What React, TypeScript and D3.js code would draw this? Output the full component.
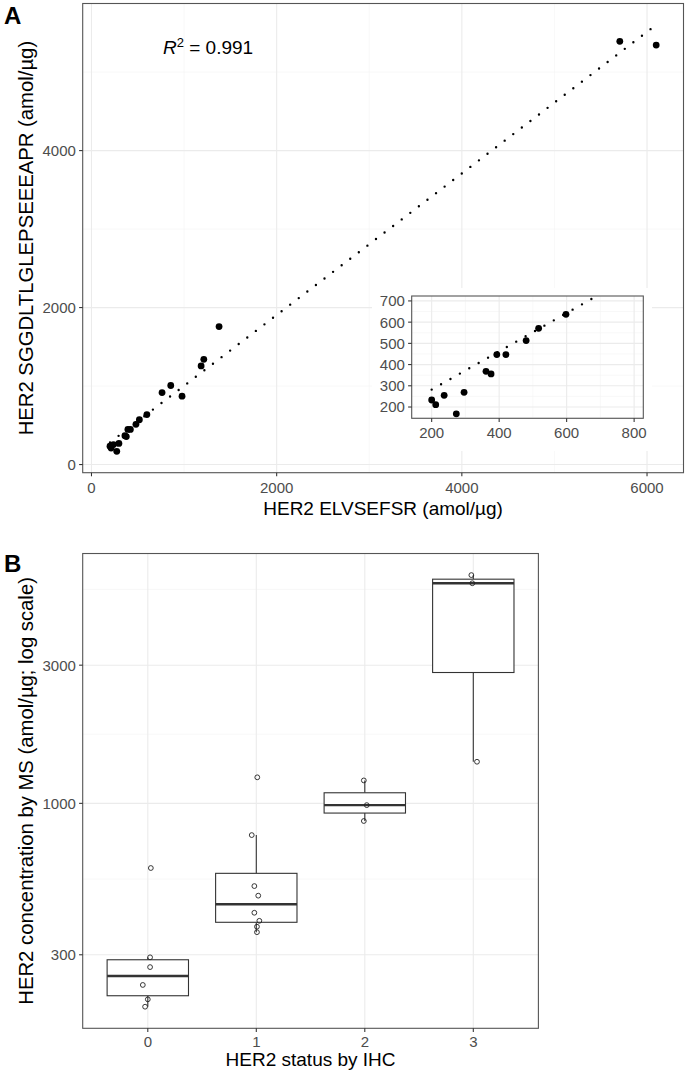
import React from "react";
import * as d3 from "d3";

// ---------- Panel A data (amol/µg) ----------
const elvsefsr = [200, 212, 237, 273, 296, 361, 376, 393, 420, 480, 517, 598, 762, 856, 978, 1184, 1213, 1378, 5706, 6099];
const sggdl = [233, 211, 255, 168, 269, 368, 356, 447, 447, 513, 571, 637, 917, 1007, 871, 1256, 1341, 1758, 5392, 5345];
const r2Label = "0.991";
const mainXTicks = [0, 2000, 4000, 6000];
const mainXMinor = [1000, 3000, 5000];
const mainYTicks = [0, 2000, 4000];
const mainYMinor = [1000, 3000, 5000];
const insetXLim = [172, 796];
const insetYLim = [173, 697];
const insetXTicks = [200, 400, 600, 800];
const insetXMinor = [300, 500, 700];
const insetYTicks = [200, 300, 400, 500, 600, 700];
const insetYMinor = [150, 250, 350, 450, 550, 650];

// ---------- Panel B data ----------
const ihcCategories = ["0", "1", "2", "3"];
const ihc0 = [598, 294, 272, 236, 210.5, 198.5];
const ihc1 = [1230, 777, 518, 480, 419, 393, 375, 359];
const ihc2 = [1200, 986, 869];
const ihc3 = [6140, 5754, 1392];
const jitter0 = [0.028, 0.021, 0.021, -0.046, 0.0, -0.025];
const jitter1 = [0.009, -0.042, -0.018, 0.018, -0.018, 0.028, 0.006, 0.006];
const jitter2 = [-0.009, 0.018, -0.009];
const jitter3 = [-0.018, -0.009, 0.034];
const logTicks = [300, 1000, 3000];

const FONT = "'Liberation Sans', Arial, Helvetica, sans-serif";
const TICK_FS = 15;
const TITLE_FS = 19;
const YTITLE_FS = 20.3;
const TICK_COL = "#4d4d4d";
const GRID = "#ebebeb";
const GRID_MINOR = "#f3f3f3";
const BORDER = "#555";

function expand([lo, hi]: number[], m = 0.05) {
  const d = hi - lo;
  return [lo - m * d, hi + m * d];
}

function linearFit(xs: number[], ys: number[]) {
  const mx = d3.mean(xs)!;
  const my = d3.mean(ys)!;
  let sxy = 0, sxx = 0;
  xs.forEach((x, i) => {
    sxy += (x - mx) * (ys[i] - my);
    sxx += (x - mx) * (x - mx);
  });
  const slope = sxy / sxx;
  return { slope, intercept: my - slope * mx };
}

export default function App() {
  const W = 685, H = 1074;

  // ---------- Panel A ----------
  const A = { l: 82.7, r: 683.5, t: 3.5, b: 472.7 };
  const fit = linearFit(elvsefsr, sggdl);
  const fx = (x: number) => fit.intercept + fit.slope * x;
  const [xmin, xmax] = d3.extent(elvsefsr) as [number, number];
  const yLo = Math.min(d3.min(sggdl)!, fx(xmin));
  const yHi = Math.max(d3.max(sggdl)!, fx(xmax));
  const xA = d3.scaleLinear().domain(expand([xmin, xmax])).range([A.l, A.r]);
  const yA = d3.scaleLinear().domain(expand([yLo, yHi])).range([A.b, A.t]);

  // Inset
  const I = { l: 411.7, r: 643.3, t: 296, b: 418.3 };
  const xI = d3.scaleLinear().domain(expand(insetXLim)).range([I.l, I.r]);
  const yI = d3.scaleLinear().domain(expand(insetYLim)).range([I.b, I.t]);
  const [ixd0, ixd1] = xI.domain();
  const [iyd0, iyd1] = yI.domain();

  const dotted = { stroke: "#000", strokeWidth: 2.4, strokeDasharray: "0 10.8", strokeLinecap: "round" as const, fill: "none" };

  // ---------- Panel B ----------
  const B = { l: 82.7, r: 538.4, b: 1028.3 };
  const groups = [ihc0, ihc1, ihc2, ihc3];
  const jitters = [jitter0, jitter1, jitter2, jitter3];
  const allLog = groups.flat().map((v) => Math.log10(v));
  const logDom = expand(d3.extent(allLog) as [number, number]);
  const pxPerDecade = 289.6;
  const B_t = B.b - (logDom[1] - logDom[0]) * pxPerDecade;
  const yB = d3.scaleLog().domain([10 ** logDom[0], 10 ** logDom[1]]).range([B.b, B_t]);
  const step = (B.r - B.l) / (ihcCategories.length - 1 + 1.2);
  const xBc = d3.scaleLinear().domain([-0.6, ihcCategories.length - 1 + 0.6]).range([B.l, B.r]);
  const boxW = 0.75 * step;

  const logMinor: number[] = [];
  const majorsExt = [...logTicks, 10000];
  for (let i = 0; i < majorsExt.length - 1; i++) {
    logMinor.push(10 ** ((Math.log10(majorsExt[i]) + Math.log10(majorsExt[i + 1])) / 2));
  }

  const stats = groups.map((g) => {
    const lv = g.map((v) => Math.log10(v)).sort(d3.ascending);
    const q1 = d3.quantileSorted(lv, 0.25)!;
    const med = d3.quantileSorted(lv, 0.5)!;
    const q3 = d3.quantileSorted(lv, 0.75)!;
    const iqr = q3 - q1;
    const lo = d3.min(lv.filter((v) => v >= q1 - 1.5 * iqr))!;
    const hi = d3.max(lv.filter((v) => v <= q3 + 1.5 * iqr))!;
    return { q1: 10 ** q1, med: 10 ** med, q3: 10 ** q3, lo: 10 ** lo, hi: 10 ** hi };
  });

  const tickText = { fontFamily: FONT, fontSize: TICK_FS, fill: TICK_COL };
  const titleText = { fontFamily: FONT, fontSize: TITLE_FS, fill: "#000" };
  const yTitleText = { fontFamily: FONT, fontSize: YTITLE_FS, fill: "#000" };
  const LBL_GAP = 6.8;

  return (
    <svg width={W} height={H} viewBox={`0 0 ${W} ${H}`} style={{ position: "absolute", left: 0, top: 0, background: "#fff" }}>
      <defs>
        <clipPath id="clipA"><rect x={A.l} y={A.t} width={A.r - A.l} height={A.b - A.t} /></clipPath>
        <clipPath id="clipI"><rect x={I.l} y={I.t} width={I.r - I.l} height={I.b - I.t} /></clipPath>
      </defs>
      <rect x={0} y={0} width={W} height={H} fill="#fff" />

      {/* ================= Panel A ================= */}
      <text x={4} y={24} style={{ fontFamily: FONT, fontSize: 24, fontWeight: "bold" }}>A</text>
      <g clipPath="url(#clipA)">
        {mainXMinor.map((v) => <line key={"xm" + v} x1={xA(v)} x2={xA(v)} y1={A.t} y2={A.b} stroke={GRID_MINOR} strokeWidth={0.6} />)}
        {mainYMinor.map((v) => <line key={"ym" + v} y1={yA(v)} y2={yA(v)} x1={A.l} x2={A.r} stroke={GRID_MINOR} strokeWidth={0.6} />)}
        {mainXTicks.map((v) => <line key={"xg" + v} x1={xA(v)} x2={xA(v)} y1={A.t} y2={A.b} stroke={GRID} strokeWidth={1.1} />)}
        {mainYTicks.map((v) => <line key={"yg" + v} y1={yA(v)} y2={yA(v)} x1={A.l} x2={A.r} stroke={GRID} strokeWidth={1.1} />)}
        <line x1={xA(xmin)} y1={yA(fx(xmin))} x2={xA(xmax)} y2={yA(fx(xmax))} {...dotted} />
        {elvsefsr.map((x, i) => <circle key={"pa" + i} cx={xA(x)} cy={yA(sggdl[i])} r={3.4} fill="#000" />)}
      </g>
      <rect x={A.l} y={A.t} width={A.r - A.l} height={A.b - A.t} fill="none" stroke={BORDER} strokeWidth={1.1} />
      {mainXTicks.map((v) => (
        <g key={"xt" + v}>
          <line x1={xA(v)} x2={xA(v)} y1={A.b} y2={A.b + 3.6} stroke="#333" strokeWidth={1.07} />
          <text x={xA(v)} y={A.b + 20.5} textAnchor="middle" style={tickText}>{v}</text>
        </g>
      ))}
      {mainYTicks.map((v) => (
        <g key={"yt" + v}>
          <line x1={A.l - 3.6} x2={A.l} y1={yA(v)} y2={yA(v)} stroke="#333" strokeWidth={1.07} />
          <text x={A.l - LBL_GAP} y={yA(v)} dy="0.36em" textAnchor="end" style={tickText}>{v}</text>
        </g>
      ))}
      <text x={(A.l + A.r) / 2} y={A.b + 42} textAnchor="middle" style={titleText}>HER2 ELVSEFSR (amol/µg)</text>
      <text transform={`translate(33,${(A.t + A.b) / 2}) rotate(-90)`} textAnchor="middle" style={yTitleText}>HER2 SGGDLTLGLEPSEEEAPR (amol/µg)</text>
      <text x={163} y={54} style={{ fontFamily: FONT, fontSize: 19, fill: "#000" }}>
        <tspan fontStyle="italic">R</tspan>
        <tspan dy={-7.5} fontSize={13}>2</tspan>
        <tspan dy={7.5}>{" = " + r2Label}</tspan>
      </text>

      {/* Inset */}
      <rect x={372} y={288} width={280} height={163} fill="#fff" />
      <g clipPath="url(#clipI)">
        {insetXMinor.map((v) => <line key={"ixm" + v} x1={xI(v)} x2={xI(v)} y1={I.t} y2={I.b} stroke={GRID_MINOR} strokeWidth={0.6} />)}
        {insetYMinor.map((v) => <line key={"iym" + v} y1={yI(v)} y2={yI(v)} x1={I.l} x2={I.r} stroke={GRID_MINOR} strokeWidth={0.6} />)}
        {insetXTicks.map((v) => <line key={"ixg" + v} x1={xI(v)} x2={xI(v)} y1={I.t} y2={I.b} stroke={GRID} strokeWidth={1.1} />)}
        {insetYTicks.map((v) => <line key={"iyg" + v} y1={yI(v)} y2={yI(v)} x1={I.l} x2={I.r} stroke={GRID} strokeWidth={1.1} />)}
        <line x1={xI(xmin)} y1={yI(fx(xmin))} x2={xI(Math.min(xmax, ixd1 + 50))} y2={yI(fx(Math.min(xmax, ixd1 + 50)))} {...dotted} />
        {elvsefsr.map((x, i) =>
          x >= ixd0 && x <= ixd1 && sggdl[i] >= iyd0 && sggdl[i] <= iyd1 ? (
            <circle key={"pi" + i} cx={xI(x)} cy={yI(sggdl[i])} r={3.4} fill="#000" />
          ) : null
        )}
      </g>
      <rect x={I.l} y={I.t} width={I.r - I.l} height={I.b - I.t} fill="none" stroke={BORDER} strokeWidth={1.1} />
      {insetXTicks.map((v) => (
        <g key={"ixt" + v}>
          <line x1={xI(v)} x2={xI(v)} y1={I.b} y2={I.b + 3.6} stroke="#333" strokeWidth={1.07} />
          <text x={xI(v)} y={I.b + 19.5} textAnchor="middle" style={tickText}>{v}</text>
        </g>
      ))}
      {insetYTicks.map((v) => (
        <g key={"iyt" + v}>
          <line x1={I.l - 3.6} x2={I.l} y1={yI(v)} y2={yI(v)} stroke="#333" strokeWidth={1.07} />
          <text x={I.l - LBL_GAP} y={yI(v)} dy="0.36em" textAnchor="end" style={tickText}>{v}</text>
        </g>
      ))}

      {/* ================= Panel B ================= */}
      <text x={4} y={572} style={{ fontFamily: FONT, fontSize: 24, fontWeight: "bold" }}>B</text>
      {logMinor.map((v) => <line key={"bm" + v} y1={yB(v)} y2={yB(v)} x1={B.l} x2={B.r} stroke={GRID_MINOR} strokeWidth={0.6} />)}
      {logTicks.map((v) => <line key={"bg" + v} y1={yB(v)} y2={yB(v)} x1={B.l} x2={B.r} stroke={GRID} strokeWidth={1.1} />)}
      {ihcCategories.map((c, i) => <line key={"bx" + c} x1={xBc(i)} x2={xBc(i)} y1={B_t} y2={B.b} stroke={GRID} strokeWidth={1.1} />)}
      {stats.map((s, i) => {
        const cx = xBc(i);
        return (
          <g key={"box" + i} stroke="#333" fill="none">
            <line x1={cx} x2={cx} y1={yB(s.q3)} y2={yB(s.hi)} strokeWidth={1.1} />
            <line x1={cx} x2={cx} y1={yB(s.q1)} y2={yB(s.lo)} strokeWidth={1.1} />
            <rect x={cx - boxW / 2} y={yB(s.q3)} width={boxW} height={yB(s.q1) - yB(s.q3)} fill="#fff" strokeWidth={1.1} />
            <line x1={cx - boxW / 2} x2={cx + boxW / 2} y1={yB(s.med)} y2={yB(s.med)} strokeWidth={2.4} />
          </g>
        );
      })}
      {groups.map((g, i) =>
        g.map((v, j) => (
          <circle key={`bp${i}-${j}`} cx={xBc(i + jitters[i][j])} cy={yB(v)} r={2.4} fill="none" stroke="#222" strokeWidth={0.9} />
        ))
      )}
      <rect x={B.l} y={B_t} width={B.r - B.l} height={B.b - B_t} fill="none" stroke={BORDER} strokeWidth={1.1} />
      {ihcCategories.map((c, i) => (
        <g key={"bxt" + c}>
          <line x1={xBc(i)} x2={xBc(i)} y1={B.b} y2={B.b + 3.6} stroke="#333" strokeWidth={1.07} />
          <text x={xBc(i)} y={B.b + 18.5} textAnchor="middle" style={tickText}>{c}</text>
        </g>
      ))}
      {logTicks.map((v) => (
        <g key={"byt" + v}>
          <line x1={B.l - 3.6} x2={B.l} y1={yB(v)} y2={yB(v)} stroke="#333" strokeWidth={1.07} />
          <text x={B.l - LBL_GAP} y={yB(v)} dy="0.36em" textAnchor="end" style={tickText}>{v}</text>
        </g>
      ))}
      <text x={(B.l + B.r) / 2} y={B.b + 38} textAnchor="middle" style={titleText}>HER2 status by IHC</text>
      <text transform={`translate(33,${(B_t + B.b) / 2}) rotate(-90)`} textAnchor="middle" style={yTitleText}>HER2 concentration by MS (amol/µg; log scale)</text>
    </svg>
  );
}
